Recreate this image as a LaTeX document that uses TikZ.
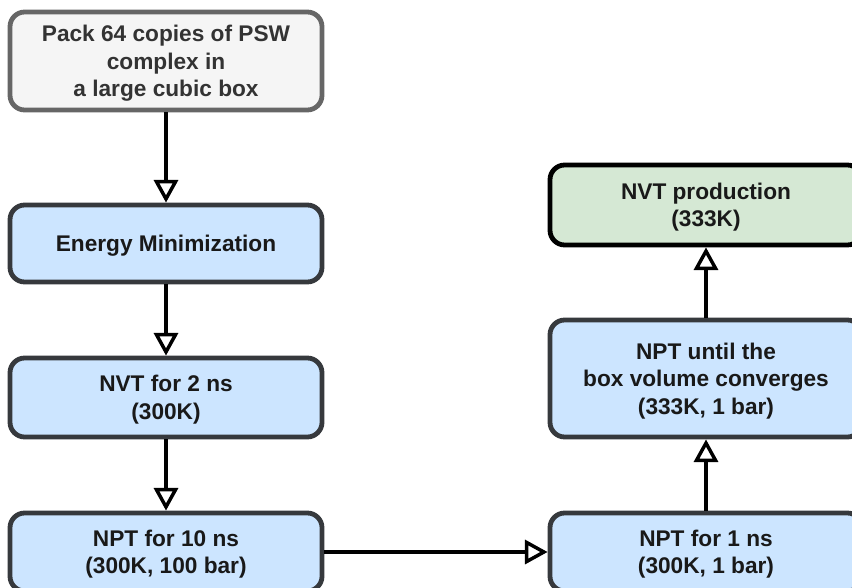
\documentclass[tikz,border=0pt]{standalone}
\usepackage{fontspec}
\setmainfont{Liberation Sans}
\usetikzlibrary{arrows.meta}
\definecolor{boxblue}{HTML}{CCE5FF}
\definecolor{boxgreen}{HTML}{D5E8D4}
\definecolor{boxgrey}{HTML}{F5F5F5}
\definecolor{edgedark}{HTML}{36393D}
\definecolor{edgegrey}{HTML}{666666}
\definecolor{textgrey}{HTML}{333333}

\begin{document}
\begin{tikzpicture}[x=0.75pt,y=-0.75pt,
  >={Triangle[open,length=17pt,width=18pt]},
  font=\fontsize{17}{20.6}\selectfont\bfseries,
  stepbox/.style={draw=edgedark,line width=3.6pt,rounded corners=11pt,fill=boxblue,
    minimum width=234pt,align=center,inner sep=0pt,text depth=0pt,text=black!90},
  startbox/.style={stepbox,draw=edgegrey,fill=boxgrey,text=textgrey},
  endbox/.style={stepbox,draw=black,fill=boxgreen},
  flow/.style={->,line width=2.6pt,black}]
  \useasboundingbox (0,0) rectangle (852,588);
  \node[startbox,minimum height=73.5pt] (pack) at (166,61) {Pack 64 copies of PSW\\complex in\\a large cubic box};
  \node[stepbox,minimum height=57.75pt] (energy) at (166,243.5) {Energy Minimization};
  \node[stepbox,minimum height=59.25pt] (nvt) at (166,397.5) {NVT for 2 ns\\(300K)};
  \node[stepbox,minimum height=58.5pt] (npt10) at (166,552) {NPT for 10 ns\\(300K, 100 bar)};
  \node[stepbox,minimum height=58.5pt] (npt1) at (706,552) {NPT for 1 ns\\(300K, 1 bar)};
  \node[stepbox,minimum height=87.75pt] (nptconv) at (706,378.5) {NPT until the\\box volume converges\\(333K, 1 bar)};
  \node[endbox,minimum height=60pt] (prod) at (706,205) {NVT production\\(333K)};
  \draw[flow] (pack) -- (energy);
  \draw[flow] (energy) -- (nvt);
  \draw[flow] (nvt) -- (npt10);
  \draw[flow] (npt10) -- (npt1);
  \draw[flow] (npt1) -- (nptconv);
  \draw[flow] (nptconv) -- (prod);
\end{tikzpicture}
\end{document}
